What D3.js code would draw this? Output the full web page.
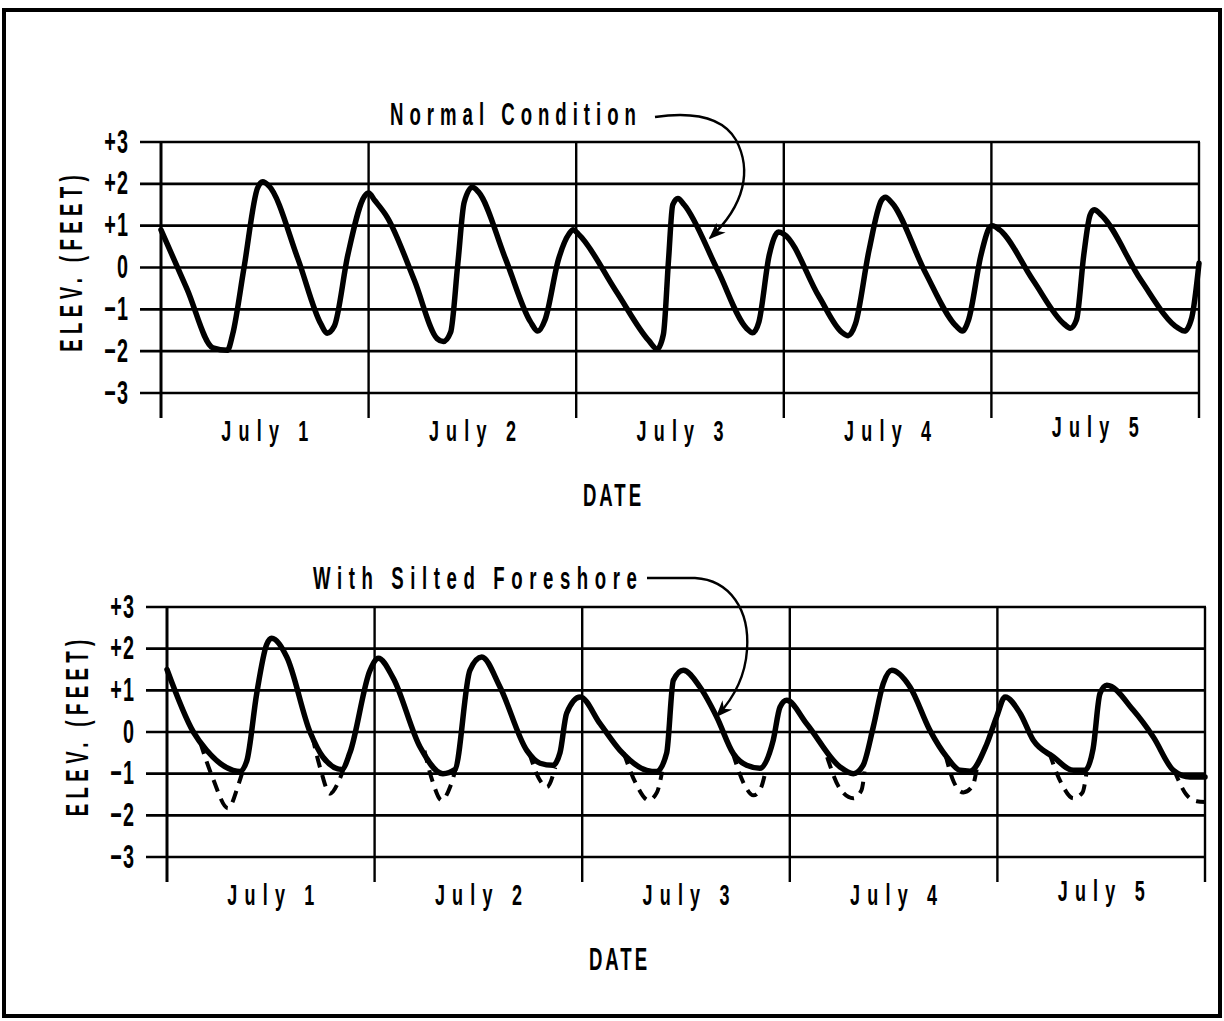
<!DOCTYPE html>
<html>
<head>
<meta charset="utf-8">
<script src="https://cdn.jsdelivr.net/npm/d3@7/dist/d3.min.js"></script>
<style>
  html, body { margin: 0; padding: 0; background: #fff; }
  svg { display: block; }
  text { font-family: "Liberation Sans", Arial, sans-serif; font-weight: bold; fill: #000; }
</style>
</head>
<body>
<svg width="1224" height="1021"></svg>
<script>
// day labels and elevation ticks
const dayLabels = ["July 1", "July 2", "July 3", "July 4", "July 5"];
const elevTicks = [3, 2, 1, 0, -1, -2, -3];

// normal condition (days since July 1, 00:00 ; feet)
const normalDay = [0, 0.125, 0.25, 0.32, 0.345, 0.40, 0.465, 0.49, 0.52, 0.66, 0.77, 0.80, 0.835, 0.90, 0.98, 1.0,
  1.03, 1.09, 1.22, 1.33, 1.36, 1.395, 1.43, 1.46, 1.50, 1.53, 1.66, 1.78, 1.815, 1.85, 1.915, 1.965, 1.985,
  2.01, 2.19, 2.35, 2.39, 2.42, 2.445, 2.465, 2.49, 2.52, 2.68, 2.82, 2.85, 2.88, 2.93, 2.975, 3.0,
  3.17, 3.28, 3.31, 3.345, 3.41, 3.47, 3.49, 3.52, 3.68, 3.83, 3.86, 3.89, 3.95, 3.99, 4.005,
  4.04, 4.2, 4.35, 4.38, 4.41, 4.445, 4.475, 4.495, 4.53, 4.72, 4.90, 4.93, 4.965, 5.0];
const normalElev = [0.9, -0.51, -1.92, -1.98, -1.6, 0.0, 1.9, 2.05, 1.95, 0.2, -1.35, -1.57, -1.4, 0.3, 1.7, 1.78,
  1.6, 1.2, -0.3, -1.7, -1.77, -1.55, 0.1, 1.55, 1.92, 1.8, 0.2, -1.3, -1.52, -1.25, 0.2, 0.8, 0.9,
  0.8, -0.55, -1.75, -1.95, -1.6, 0.2, 1.5, 1.65, 1.5, -0.05, -1.45, -1.56, -1.3, 0.3, 0.85, 0.8,
  -0.7, -1.55, -1.63, -1.35, 0.4, 1.6, 1.68, 1.55, -0.1, -1.4, -1.52, -1.25, 0.3, 0.95, 1.0,
  0.9, -0.3, -1.35, -1.45, -1.25, 0.3, 1.25, 1.38, 1.25, -0.3, -1.45, -1.52, -1.2, 0.1];

// with silted foreshore
const siltedDay = [0, 0.127, 0.191, 0.318, 0.35, 0.384, 0.432, 0.48, 0.504, 0.577, 0.689, 0.751, 0.842, 0.881,
  0.978, 1.018, 1.089, 1.219, 1.329, 1.387, 1.459, 1.516, 1.604, 1.733, 1.797, 1.859, 1.893, 1.925, 1.99,
  2.086, 2.182, 2.311, 2.359, 2.407, 2.439, 2.487, 2.567, 2.648, 2.728, 2.792, 2.856, 2.92, 2.953, 2.985,
  3.081, 3.242, 3.306, 3.353, 3.402, 3.45, 3.491, 3.579, 3.675, 3.756, 3.82, 3.868, 3.948, 3.996, 4.037,
  4.109, 4.173, 4.27, 4.366, 4.422, 4.461, 4.494, 4.527, 4.655, 4.751, 4.848, 4.928, 5.0];
const siltedElev = [1.5, 0.0, -0.44, -0.92, -0.95, -0.7, 0.92, 2.1, 2.25, 1.8, 0.0, -0.6, -0.9, -0.5,
  1.48, 1.77, 1.3, -0.36, -1.0, -0.9, 1.48, 1.8, 1.08, -0.44, -0.75, -0.8, -0.5, 0.45, 0.84,
  0.2, -0.44, -0.92, -0.95, -0.5, 1.24, 1.48, 1.08, 0.36, -0.52, -0.8, -0.87, -0.2, 0.6, 0.76,
  0.2, -0.84, -1.0, -0.8, 0.12, 1.16, 1.48, 1.08, 0.04, -0.6, -0.92, -0.94, -0.3, 0.36, 0.84,
  0.45, -0.2, -0.6, -0.92, -0.92, -0.4, 0.92, 1.12, 0.52, -0.12, -0.92, -1.08, -1.08];

// dashed lows (normal lows kept for comparison), null breaks the line
const lowDay = [0.16, 0.22, 0.294, 0.345, 0.37, null,
  0.70, 0.74, 0.785, 0.83, 0.857, null,
  1.24, 1.28, 1.323, 1.365, 1.39, null,
  1.745, 1.79, 1.83, 1.87, null,
  2.2, 2.26, 2.32, 2.36, 2.385, null,
  2.725, 2.78, 2.825, 2.86, 2.885, null,
  3.18, 3.24, 3.306, 3.345, 3.36, null,
  3.75, 3.79, 3.836, 3.88, 3.90, null,
  4.25, 4.31, 4.366, 4.41, 4.43, null,
  4.85, 4.91, 4.96, 5.0];
const lowElev = [-0.25, -1.1, -1.83, -1.25, -0.85, null,
  -0.1, -0.9, -1.48, -1.15, -0.8, null,
  -0.45, -1.2, -1.64, -1.3, -0.9, null,
  -0.5, -1.1, -1.32, -0.85, null,
  -0.5, -1.25, -1.64, -1.45, -0.95, null,
  -0.5, -1.25, -1.52, -1.35, -0.9, null,
  -0.6, -1.35, -1.59, -1.4, -0.95, null,
  -0.55, -1.2, -1.45, -1.3, -0.9, null,
  -0.5, -1.25, -1.59, -1.45, -0.95, null,
  -0.9, -1.5, -1.66, -1.68];

const zip = (xs, ys) => xs.map((d, i) => ({ d, e: ys[i] }));

const svg = d3.select("svg");

// page frame
svg.append("rect")
  .attr("x", 4).attr("y", 10).attr("width", 1216).attr("height", 1006)
  .attr("fill", "none").attr("stroke", "#000").attr("stroke-width", 4);

svg.append("defs").append("marker")
  .attr("id", "head")
  .attr("viewBox", "0 0 10 10")
  .attr("refX", 9).attr("refY", 5)
  .attr("markerWidth", 7).attr("markerHeight", 7)
  .attr("markerUnits", "strokeWidth")
  .attr("orient", "auto")
  .append("path").attr("d", "M0,1 L10,5 L0,9 L3,5 Z").attr("fill", "#000");

// squeezed bold text, like the condensed lettering of the original
const SX = 0.6;
function label(g, x, y, str, size, anchor, spacing, rotate) {
  // trailing letter-spacing pushes anchored text; shift it back
  const shift = anchor === "middle" ? spacing / 2 : anchor === "end" ? spacing : 0;
  const t = g.append("g")
    .attr("transform", `translate(${x},${y})` + (rotate ? ` rotate(${rotate})` : "") + ` scale(${SX},1)`);
  t.append("text")
    .attr("x", shift)
    .attr("font-size", size)
    .attr("letter-spacing", spacing)
    .attr("text-anchor", anchor)
    .attr("dominant-baseline", "central")
    .text(str);
}

function panel(cfg) {
  const g = svg.append("g");
  const x = d3.scaleLinear().domain([0, 5]).range([cfg.x0, cfg.x1]);
  const y = d3.scaleLinear().domain([-3, 3]).range([cfg.yBot, cfg.yTop]);

  // horizontal grid
  g.selectAll(".h").data(elevTicks).join("line")
    .attr("x1", cfg.x0 - 21).attr("x2", cfg.x1 + 1)
    .attr("y1", d => y(d)).attr("y2", d => y(d))
    .attr("stroke", "#000").attr("stroke-width", 2.6);

  // day dividers
  g.selectAll(".v").data(d3.range(6)).join("line")
    .attr("x1", d => x(d)).attr("x2", d => x(d))
    .attr("y1", y(3)).attr("y2", y(-3) + 25)
    .attr("stroke", "#000").attr("stroke-width", d => (d === 0 ? 3 : 2.4));

  // tick labels
  elevTicks.forEach(v => {
    const s = v > 0 ? "+" + v : v < 0 ? "\u2212" + (-v) : "0";
    label(g, cfg.x0 - 33, y(v) - 1, s, 33, "end", 2);
  });

  label(g, cfg.x0 - 90, (y(3) + y(-3)) / 2 - 4, "ELEV. (FEET)", 31, "middle", 9, -90);

  dayLabels.forEach((s, i) => {
    label(g, x(i + 0.5), y(-3) + 38 - (i === 4 ? 4 : 0), s, 30, "middle", 12);
  });
  label(g, cfg.x0 + 451, y(-3) + 102, "DATE", 31, "middle", 5);

  label(g, cfg.titleX, cfg.titleY, cfg.title, 31, "start", cfg.titleSpacing);

  const line = d3.line()
    .defined(p => p.e != null)
    .x(p => x(p.d)).y(p => y(p.e))
    .curve(d3.curveMonotoneX);

  if (cfg.low) {
    g.append("path")
      .attr("d", line(zip(cfg.low[0], cfg.low[1])))
      .attr("fill", "none").attr("stroke", "#000")
      .attr("stroke-width", 4).attr("stroke-dasharray", "12,8");
  }

  g.append("path")
    .attr("d", line(zip(cfg.days, cfg.elev)))
    .attr("fill", "none").attr("stroke", "#000")
    .attr("stroke-width", 5.5).attr("stroke-linejoin", "round").attr("stroke-linecap", "round");

  g.append("path")
    .attr("d", cfg.arrow)
    .attr("fill", "none").attr("stroke", "#000").attr("stroke-width", 2.4)
    .attr("marker-end", "url(#head)");
}

panel({
  x0: 161, x1: 1199, yTop: 142, yBot: 393,
  days: normalDay, elev: normalElev,
  title: "Normal Condition", titleX: 390, titleY: 114, titleSpacing: 10,
  arrow: "M655,117 C690,112 722,116 736,140 C752,170 745,205 710,238"
});

panel({
  x0: 167, x1: 1205, yTop: 607, yBot: 857,
  days: siltedDay, elev: siltedElev, low: [lowDay, lowElev],
  title: "With Silted Foreshore", titleX: 313, titleY: 578, titleSpacing: 11,
  arrow: "M647,578 L695,578 C730,580 750,610 747,650 C745,680 732,700 717,716"
});
</script>
</body>
</html>
